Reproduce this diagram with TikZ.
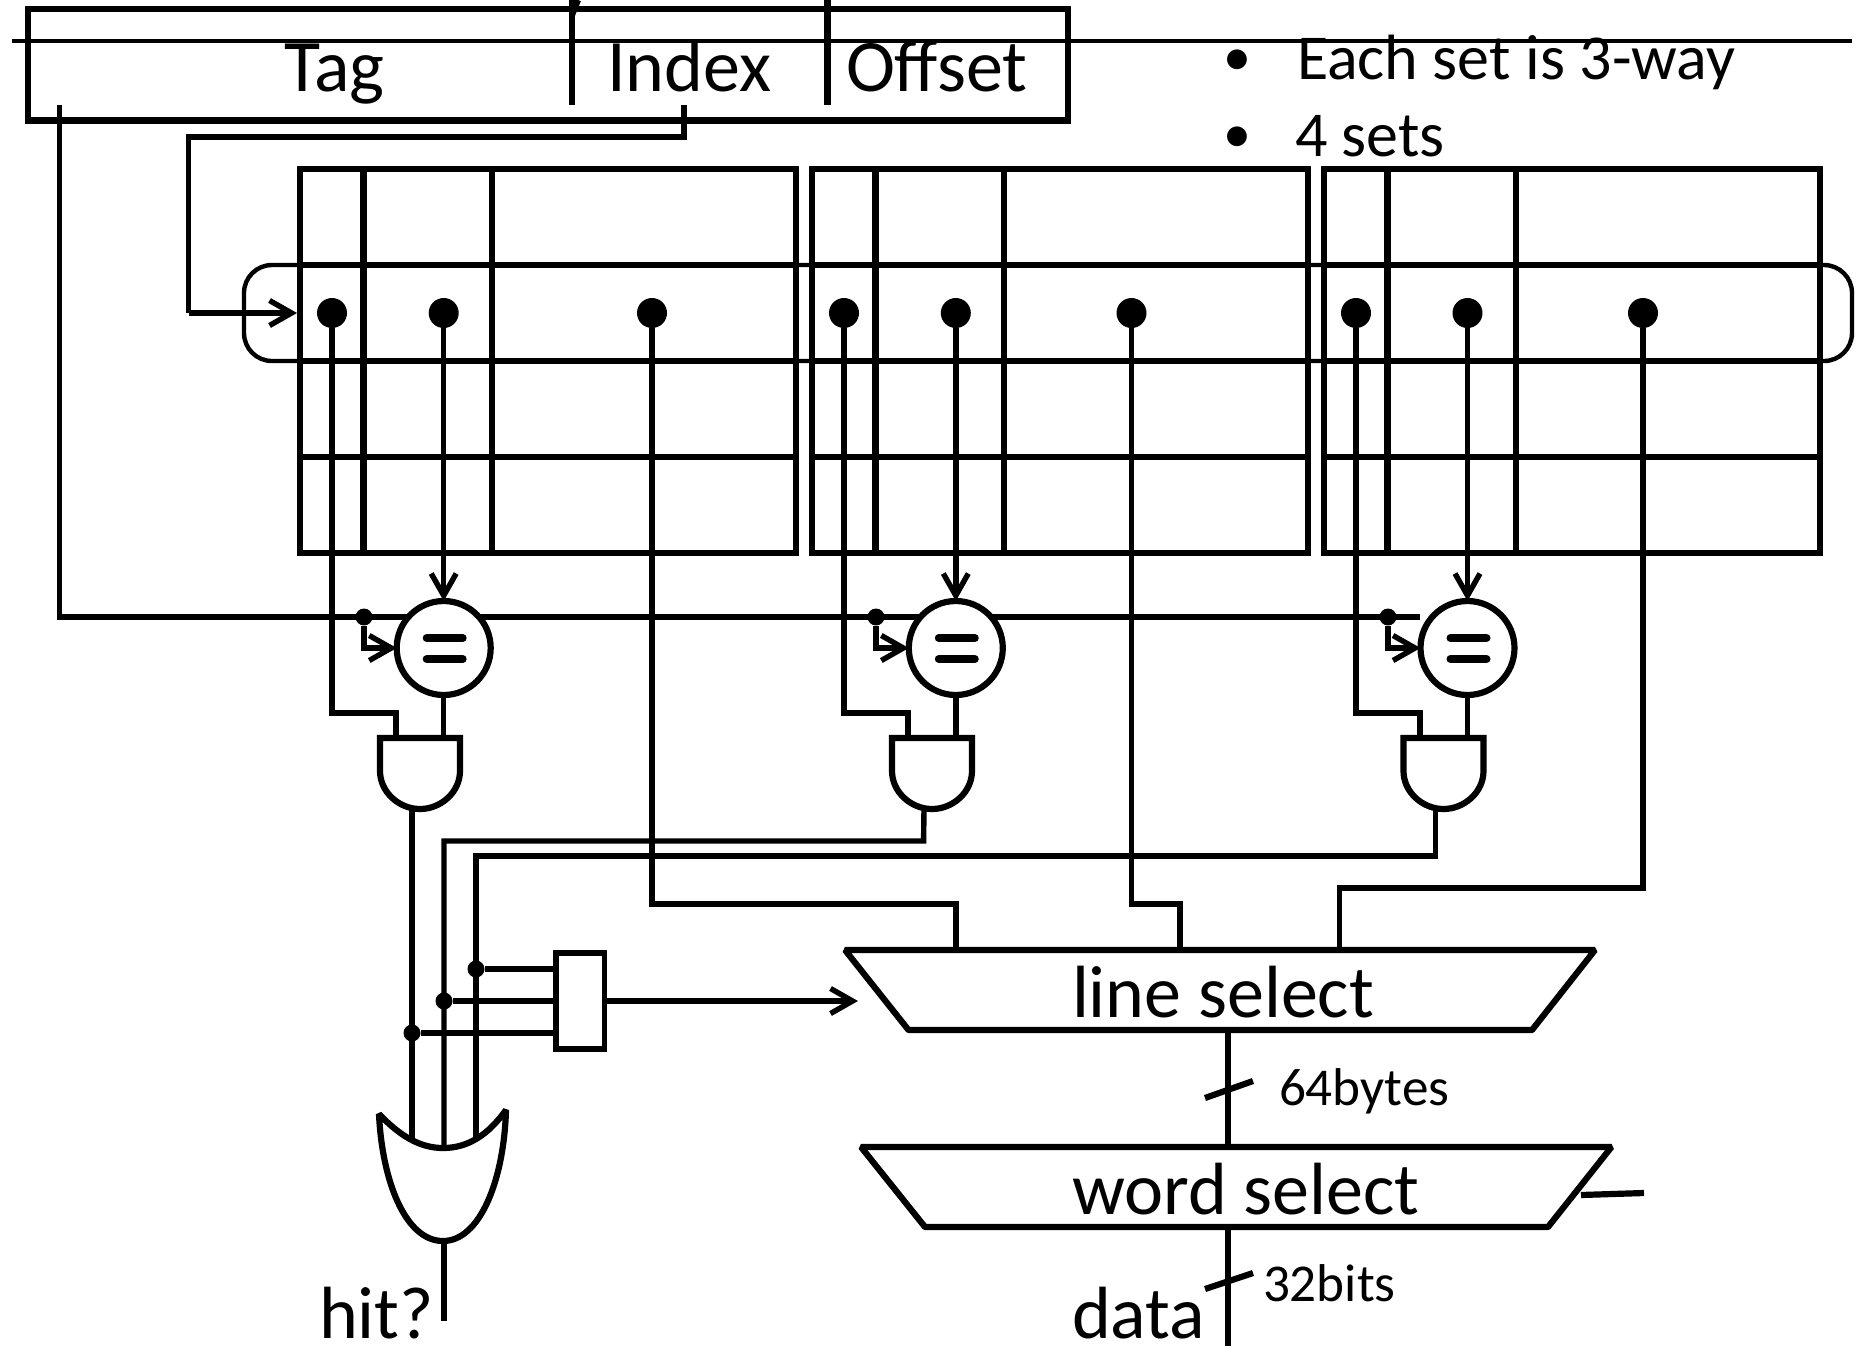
\documentclass[tikz,border=0pt]{standalone}
\usepackage{fontspec}
\setmainfont{Carlito}
\usetikzlibrary{arrows.meta,calc}
\tikzset{
  wire/.style={line width=2.7pt,line join=miter},
  heavy/.style={line width=3.1pt,line join=miter},
  arrowwire/.style={wire,-{Straight Barb[length=11pt,width=12.5pt]}},
  bigdot/.style={circle,fill=black,inner sep=0pt,minimum size=15pt},
  smalldot/.style={circle,fill=black,inner sep=0pt,minimum size=8.5pt},
  comparator/.style={circle,draw,heavy,fill=white,inner sep=0pt,minimum size=47pt,outer sep=0pt},
  gate/.style={heavy,fill=white},
  lab/.style={anchor=base west,inner sep=0pt,outer sep=0pt},
  big/.style={lab,font=\fontsize{37}{44}\selectfont},
  bul/.style={lab,font=\fontsize{32}{38}\selectfont},
  bulmark/.style={lab,font=\fontsize{28}{34}\selectfont},
  small/.style={lab,font=\fontsize{26.6}{32}\selectfont},
  muxbox/.style={rectangle,draw,wire,fill=white,inner sep=0pt,minimum width=24.25pt,minimum height=48pt,outer sep=0pt}
}
\begin{document}
\begin{tikzpicture}[x=0.5pt,y=-0.5pt]
\useasboundingbox (0,0) rectangle (1860,1346);
% address box
\draw[line width=1.9pt] (12,41.3) -- (1852,41.3);
\draw[heavy] (28,9) rectangle (1068,120.5);
\draw[heavy] (572,0) -- (572,105);
\draw[heavy] (578,0) -- (572,15);
\draw[heavy] (827.5,0) -- (827.5,105);
\node[big] (tag) at (284,91) {Tag};
\node[big] (index) at (607,91) {Index};
\node[big] (offset) at (846,91) {Offset};
\node[bulmark] (b1) at (1223,75) {•};
\node[bul] (t1) at (1297,79) {Each set is 3-way};
\node[bulmark] (b2) at (1223,152) {•};
\node[bul] (t2) at (1295,156) {4 sets};
% set selector outline
\draw[line width=2.2pt,rounded corners=14pt] (244,265) rectangle (1852,361);
% cache ways
\foreach \n/\L/\t/\c/\d/\s/\a/\i in {1/300/332/443.7/652/364/380/396,2/812/844/955.8/1131.5/876/892/908,3/1324/1356/1467.5/1643/1388/1403.5/1420}{
  \draw[heavy] (\L,169) rectangle ({\L+496},553);
  \foreach \y in {265,361,457} \draw[heavy] (\L,\y) -- ({\L+496},\y);
  \draw[heavy] ({\L+63.5},169) -- ({\L+63.5},553);
  \draw[heavy] ({\L+192},169) -- ({\L+192},553);
  \node[bigdot] (td\n) at (\t,313) {};
  \node[bigdot] (cd\n) at (\c,313) {};
  \node[bigdot] (dd\n) at (\d,313) {};
  \coordinate (tk\n) at (\i,713);
  \coordinate (tki\n) at (\t,713);
  \coordinate (ai\n) at (\i,737);
  \coordinate (ac\n) at (\c,737);
  \coordinate (ao\n) at ({\a+32},809);
}
% tag and index taps
\coordinate (tagtap) at (59.5,105);
\coordinate (tagcorner) at (59.5,617);
\coordinate (tagend) at (1420,617);
\coordinate (idxtap) at (684,105);
\coordinate (idxa) at (684,137);
\coordinate (idxb) at (188.5,137);
\coordinate (idxc) at (188.5,313);
\coordinate (idxd) at (297,313);
\draw[wire] (tagtap) -- (tagcorner) -- (tagend);
\draw[wire] (idxtap) -- (idxa) -- (idxb) -- (idxc);
\draw[arrowwire] (idxc) -- (idxd);
% data wires to line select
\coordinate (da1) at (652,904); \coordinate (db1) at (956,904); \coordinate (dc1) at (956,950);
\coordinate (da2) at (1131.5,904); \coordinate (db2) at (1180,904); \coordinate (dc2) at (1180,950);
\coordinate (da3) at (1643,888); \coordinate (db3) at (1339.5,888); \coordinate (dc3) at (1339.5,950);
\foreach \n in {1,2,3} \draw[wire] (dd\n) -- (da\n) -- (db\n) -- (dc\n);
% gates outputs to OR
\coordinate (ork1) at (412,1148);
\coordinate (ork2) at (444,1148);
\coordinate (ork3) at (476,1148);
\coordinate (bend2a) at (923.6,841); \coordinate (bend2b) at (444,841);
\coordinate (bend3a) at (1435.5,856); \coordinate (bend3b) at (476,856);
\draw[wire] (ao1) -- (ork1);
\draw[wire] (ao2) -- (bend2a) -- (bend2b) -- (ork2);
\draw[wire] (ao3) -- (bend3a) -- (bend3b) -- (ork3);
% comparators and AND gates
\foreach \n/\c/\s/\a in {1/443.7/364/380,2/955.8/876/892,3/1467.5/1388/1403.5}{
  \draw[wire] (td\n) -- (tki\n) -- (tk\n) -- (ai\n);
  \node[comparator] (cmp\n) at (\c,648) {};
  \draw[arrowwire] (cd\n) -- (cmp\n.north);
  \node[smalldot] (sd\n) at (\s,617) {};
  \draw[arrowwire] (sd\n) |- (cmp\n.west);
  \draw[line width=4pt,line cap=round] ({\c-17},638) -- ({\c+19},638);
  \draw[line width=4pt,line cap=round] ({\c-17},659) -- ({\c+19},659);
  \draw[wire] (cmp\n.south) -- (ac\n);
  \draw[gate] (\a,738) -- ({\a+80},738) -- ({\a+80},771)
    .. controls ({\a+80},792) and ({\a+61},809) .. ({\a+40},809)
    .. controls ({\a+19},809) and (\a,792) .. (\a,771) -- cycle;
}
% way decoder
\node[muxbox] (mux) at (580.25,1001) {};
\node[smalldot] (j3) at (476,969) {};
\node[smalldot] (j2) at (444,1001) {};
\node[smalldot] (j1) at (412,1033) {};
\foreach \n in {1,2,3} \draw[wire] (j\n) -- (j\n -| mux.west);
\coordinate (muxout) at (858,1001);
\draw[arrowwire] (mux.east |- j2) -- (muxout);
% OR gate
\draw[gate,line join=bevel] (379,1114) .. controls (400,1136) and (420,1148) .. (443,1148)
  .. controls (468,1148) and (488,1135) .. (506,1110)
  .. controls (504,1180) and (480,1241) .. (443,1241)
  .. controls (405,1241) and (382,1180) .. (379,1114) -- cycle;
\coordinate (orout) at (444,1241);
\coordinate (hitend) at (444,1321);
\draw[wire] (orout) -- (hitend);
\node[big] (hit) at (319,1338.5) {hit?};
% selects
\draw[heavy,line join=bevel] (845,950) -- (1595,950) -- (1532,1030) -- (908.5,1030) -- cycle;
\draw[heavy,line join=bevel] (861,1147) -- (1611.5,1147) -- (1548,1227) -- (925,1227) -- cycle;
\node[big] (ls) at (1072,1017) {line select};
\node[big] (ws) at (1072,1214) {word select};
\coordinate (lsb) at (1228,1030);
\coordinate (wst) at (1228,1147);
\coordinate (wsb) at (1228,1227);
\coordinate (dend) at (1228,1346);
\draw[wire] (lsb) -- (wst);
\draw[wire] (wsb) -- (dend);
\coordinate (ta1) at (1205,1098); \coordinate (ta2) at (1253,1081);
\coordinate (tb1) at (1205,1289); \coordinate (tb2) at (1253,1273);
\coordinate (sa) at (1581,1195); \coordinate (sb) at (1644,1193);
\draw[heavy] (ta1) -- (ta2);
\draw[heavy] (tb1) -- (tb2);
\draw[heavy] (sa) -- (sb);
\node[small] (l64) at (1279,1105) {64bytes};
\node[small] (l32) at (1263,1301) {32bits};
\node[big] (data) at (1072,1338) {data};
\end{tikzpicture}
\end{document}
